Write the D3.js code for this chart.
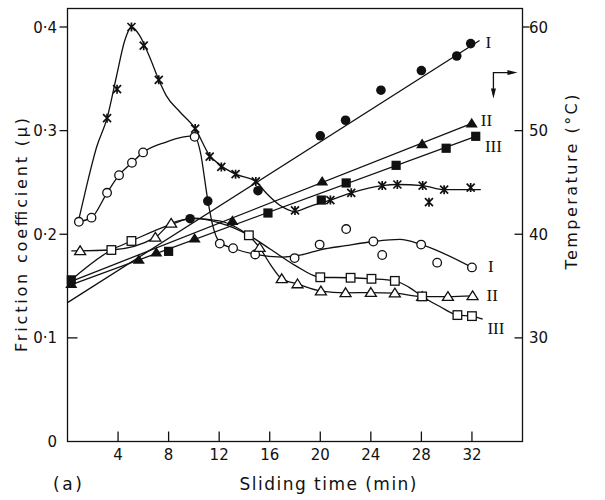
<!DOCTYPE html>
<html>
<head>
<meta charset="utf-8">
<script src="https://cdn.jsdelivr.net/npm/d3@7/dist/d3.min.js"></script>
<style>
body { margin: 0; background: #fff; }
text { font-family: "DejaVu Sans", sans-serif; fill: #111; }
text.roman { font-family: "Liberation Serif", "DejaVu Serif", serif; }
</style>
</head>
<body>
<div id="chart"></div>
<script>
const width = 605;
const height = 500;

// ticks
const timeTicks = [4, 8, 12, 16, 20, 24, 28, 32];
const muTicks = [0, 0.1, 0.2, 0.3, 0.4];
const muTickLabels = ["0", "0·1", "0·2", "0·3", "0·4"];
const tempTicks = [30, 40, 50, 60];

// friction coefficient, [time (min), mu] - markers
const frictionStar = [[3.13,0.312],[3.92,0.340],[5.06,0.400],[6.03,0.382],[7.22,0.349],[10.1,0.302],[11.25,0.275],[12.17,0.265],[13.3,0.258],[14.9,0.251],[18.0,0.223],[20.8,0.233],[22.45,0.240],[24.9,0.247],[26.1,0.248],[28.1,0.247],[28.6,0.231],[29.8,0.243],[31.9,0.245]];
const frictionI = [[0.9,0.212],[1.9,0.216],[3.13,0.240],[4.08,0.257],[5.1,0.269],[5.98,0.279],[10.06,0.294],[12.05,0.191],[13.1,0.1865],[14.85,0.1805],[17.97,0.177],[19.95,0.190],[22.05,0.205],[24.2,0.193],[24.9,0.180],[27.98,0.190],[29.25,0.1726],[32.0,0.168]];
const frictionII = [[1.0,0.184],[6.95,0.197],[8.2,0.2105],[15.2,0.187],[16.95,0.157],[18.2,0.152],[20.05,0.1452],[22.0,0.1435],[24.0,0.1437],[25.9,0.1431],[28.06,0.1398],[30.1,0.1398],[32.05,0.1405]];
const frictionIII = [[3.47,0.1848],[5.06,0.1935],[14.35,0.199],[20.0,0.1585],[22.4,0.158],[24.05,0.157],[25.9,0.155],[28.06,0.140],[30.85,0.122],[32.0,0.121]];

// hand drawn curves through the friction data
const curveStar = [[0.85,0.212],[1.5,0.246],[2.3,0.284],[3.13,0.312],[3.87,0.352],[4.53,0.387],[5.06,0.400],[5.7,0.392],[6.5,0.371],[7.22,0.349],[7.8,0.334],[8.9,0.318],[10.1,0.302],[11.25,0.276],[12.17,0.266],[13.3,0.258],[14.9,0.251],[15.7,0.240],[16.8,0.228],[18.0,0.222],[19.2,0.227],[20.8,0.233],[22.45,0.240],[24.9,0.247],[26.1,0.248],[28.1,0.247],[29.8,0.243],[31.0,0.243],[32.7,0.243]];
const curveI = [[0.85,0.212],[1.9,0.216],[3.13,0.240],[4.08,0.257],[5.1,0.269],[5.98,0.279],[7.8,0.289],[9.2,0.294],[10.06,0.295],[10.5,0.280],[11.1,0.233],[11.5,0.208],[12.05,0.192],[13.1,0.1865],[14.85,0.1805],[17,0.178],[18.5,0.180],[20,0.185],[22,0.189],[24.2,0.193],[26.3,0.195],[28,0.190],[32,0.168]];
const curveII = [[0.3,0.184],[1.0,0.184],[3.47,0.1848],[6.95,0.197],[8.2,0.2105],[10,0.215],[12,0.213],[13.3,0.207],[14.4,0.198],[15.2,0.187],[16.1,0.170],[16.95,0.157],[18.2,0.152],[20.05,0.1452],[22,0.1435],[24,0.1437],[25.9,0.1431],[28.06,0.1398],[30.1,0.1398],[32.05,0.1405]];
const curveIII = [[0.2,0.155],[3.47,0.1848],[5.06,0.1935],[8.2,0.2095],[10,0.2155],[12,0.211],[13.2,0.206],[14.35,0.199],[16,0.186],[18,0.170],[20,0.1585],[22.4,0.158],[24.05,0.157],[25.9,0.155],[27,0.149],[28.06,0.140],[29.5,0.130],[30.85,0.122],[32,0.121],[32.85,0.118]];

// temperature, [time (min), deg C]
const tempI = [[9.7,41.5],[11.1,43.2],[15.07,44.2],[20.0,49.5],[22.0,51.0],[24.8,53.9],[28.0,55.8],[30.8,57.2],[31.9,58.4]];
const tempII = [[0.3,35.2],[5.64,37.55],[7.03,38.25],[10.06,39.6],[13.05,41.3],[20.15,45.1],[28.06,48.7],[31.98,50.7]];
const tempIII = [[0.3,35.6],[8.0,38.35],[15.86,42.05],[20.08,43.3],[22.05,44.95],[26.0,46.65],[29.96,48.3],[32.3,49.45]];
const fitI = [[0, 33.4], [32.6, 58.7]];
const fitII = [[0, 35.3], [32.0, 50.7]];
const fitIII = [[0, 35.0], [32.3, 49.45]];

const svg = d3.select("#chart")
    .append("svg")
    .attr("width", width)
    .attr("height", height);

const x = d3.scaleLinear().domain([0, 36]).range([67.5, 522.5]);
const y = d3.scaleLinear().domain([0, 0.4]).range([441.5, 27]);
const yT = d3.scaleLinear().domain([20, 60]).range([y(0), y(0.4)]);

const ink = "#111";

// frame
svg.append("rect")
    .attr("x", x(0)).attr("y", 8.5)
    .attr("width", x(36) - x(0)).attr("height", y(0) - 8.5)
    .attr("fill", "none").attr("stroke", ink).attr("stroke-width", 1.3);

// x ticks (inside)
svg.selectAll(".xt").data(timeTicks).enter().append("line")
    .attr("x1", d => x(d)).attr("x2", d => x(d))
    .attr("y1", y(0)).attr("y2", y(0) - 10)
    .attr("stroke", ink).attr("stroke-width", 1.3);
svg.selectAll(".xl").data(timeTicks).enter().append("text")
    .attr("x", d => x(d)).attr("y", 460)
    .attr("text-anchor", "middle").attr("font-size", 15)
    .text(d => d);

// left ticks
svg.selectAll(".yt").data(muTicks.filter(d => d > 0)).enter().append("line")
    .attr("x1", d => d === 0.1 ? x(0) + 10 : x(0) - 8).attr("x2", x(0))
    .attr("y1", d => y(d)).attr("y2", d => y(d))
    .attr("stroke", ink).attr("stroke-width", 1.3);
svg.selectAll(".yl").data(muTicks).enter().append("text")
    .attr("x", 57).attr("y", d => y(d) + 5.5)
    .attr("text-anchor", "end").attr("font-size", 15)
    .text((d, i) => muTickLabels[i]);

// right ticks
svg.selectAll(".tt").data(tempTicks).enter().append("line")
    .attr("x1", x(36)).attr("x2", d => d === 60 ? x(36) + 7 : x(36) - 8)
    .attr("y1", d => yT(d)).attr("y2", d => yT(d))
    .attr("stroke", ink).attr("stroke-width", 1.3);
svg.selectAll(".tl").data(tempTicks).enter().append("text")
    .attr("x", 529).attr("y", d => yT(d) + 5.5)
    .attr("font-size", 15)
    .text(d => d);

// axis titles
svg.append("text")
    .attr("transform", "translate(27,235) rotate(-90)")
    .attr("text-anchor", "middle").attr("font-size", 16)
    .attr("textLength", 234).attr("lengthAdjust", "spacing")
    .text("Friction coefficient (μ)");
svg.append("text")
    .attr("transform", "translate(577,182) rotate(-90)")
    .attr("text-anchor", "middle").attr("font-size", 16)
    .attr("textLength", 175).attr("lengthAdjust", "spacing")
    .text("Temperature (°C)");
svg.append("text")
    .attr("x", 328).attr("y", 490)
    .attr("text-anchor", "middle").attr("font-size", 17)
    .attr("textLength", 177).attr("lengthAdjust", "spacing")
    .text("Sliding time (min)");
svg.append("text")
    .attr("x", 53).attr("y", 490)
    .attr("font-size", 17)
    .attr("textLength", 29).attr("lengthAdjust", "spacing")
    .text("(a)");

// lines
const muLine = d3.line().x(d => x(d[0])).y(d => y(d[1])).curve(d3.curveMonotoneX);
const tLine = d3.line().x(d => x(d[0])).y(d => yT(d[1]));

[fitI, fitII, fitIII].forEach(f => {
    svg.append("path").attr("d", tLine(f))
        .attr("fill", "none").attr("stroke", ink).attr("stroke-width", 1.3);
});
[curveStar, curveI, curveII, curveIII].forEach(c => {
    svg.append("path").attr("d", muLine(c))
        .attr("fill", "none").attr("stroke", ink).attr("stroke-width", 1.3);
});

// markers
function triPath(s) {
    return `M0,${-s}L${s * 1.1},${s * 0.75}L${-s * 1.1},${s * 0.75}Z`;
}

svg.selectAll(".star").data(frictionStar).enter().append("path")
    .attr("transform", d => `translate(${x(d[0])},${y(d[1])})`)
    .attr("d", "M-4,-4L4,4M-4,4L4,-4M0,-4.5L0,4.5")
    .attr("stroke", ink).attr("stroke-width", 1.7).attr("fill", "none");

svg.selectAll(".oc").data(frictionI).enter().append("circle")
    .attr("cx", d => x(d[0])).attr("cy", d => y(d[1])).attr("r", 4.3)
    .attr("fill", "#fff").attr("stroke", ink).attr("stroke-width", 1.3);

svg.selectAll(".ot").data(frictionII).enter().append("path")
    .attr("transform", d => `translate(${x(d[0])},${y(d[1])})`)
    .attr("d", triPath(5))
    .attr("fill", "#fff").attr("stroke", ink).attr("stroke-width", 1.3);

svg.selectAll(".os").data(frictionIII).enter().append("rect")
    .attr("x", d => x(d[0]) - 4.3).attr("y", d => y(d[1]) - 4.3)
    .attr("width", 8.6).attr("height", 8.6)
    .attr("fill", "#fff").attr("stroke", ink).attr("stroke-width", 1.3);

svg.selectAll(".fc").data(tempI).enter().append("circle")
    .attr("cx", d => x(d[0])).attr("cy", d => yT(d[1])).attr("r", 4.8)
    .attr("fill", ink);

svg.selectAll(".ft").data(tempII).enter().append("path")
    .attr("transform", d => `translate(${x(d[0])},${yT(d[1])})`)
    .attr("d", triPath(5.5))
    .attr("fill", ink);

svg.selectAll(".fs").data(tempIII).enter().append("rect")
    .attr("x", d => x(d[0]) - 4.6).attr("y", d => yT(d[1]) - 4.6)
    .attr("width", 9.2).attr("height", 9.2)
    .attr("fill", ink);

// curve labels
const roman = (t, yy, s) => svg.append("text")
    .attr("class", "roman")
    .attr("x", x(t)).attr("y", yy + 5)
    .attr("text-anchor", "middle")
    .attr("font-size", 17)
    .text(s);
roman(33.3, yT(58.5), "I");
roman(33.15, yT(50.9), "II");
roman(33.7, yT(48.4), "III");
roman(33.5, y(0.1685), "I");
roman(33.6, y(0.1405), "II");
roman(33.9, y(0.109), "III");

// arrow marks pointing to the temperature axis
const ax = x(33.7), ay = yT(55.6);
svg.append("path")
    .attr("d", `M${ax},${ay + 22}L${ax},${ay}L${ax + 20},${ay}`)
    .attr("fill", "none").attr("stroke", ink).attr("stroke-width", 1.3);
svg.append("path")
    .attr("d", `M${ax - 2.5},${ay + 16}L${ax},${ay + 26}L${ax + 2.5},${ay + 16}Z`)
    .attr("fill", ink);
svg.append("path")
    .attr("d", `M${ax + 14},${ay - 2.5}L${ax + 24},${ay}L${ax + 14},${ay + 2.5}Z`)
    .attr("fill", ink);
</script>
</body>
</html>
